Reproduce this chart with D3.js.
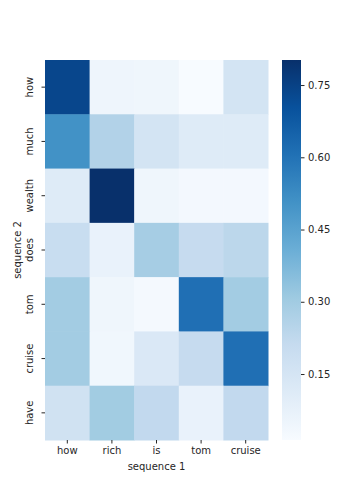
<!DOCTYPE html>
<html>
<head>
<meta charset="utf-8">
<script src="https://cdn.jsdelivr.net/npm/d3@7"></script>
<style>
  body { margin: 0; background: #fff; }
  text { font-family: "DejaVu Sans", sans-serif; fill: #262626; }
</style>
</head>
<body>
<svg id="chart" width="360" height="504"></svg>
<script>
// sequence 1 along x, sequence 2 along y
const seq1 = ['how', 'rich', 'is', 'tom', 'cruise'];
const seq2 = ['how', 'much', 'wealth', 'does', 'tom', 'cruise', 'have'];

// attention weights, one row per word of sequence 2
const rowHow    = [0.735, 0.049, 0.045, 0.013, 0.155];
const rowMuch   = [0.505, 0.26, 0.155, 0.11, 0.11];
const rowWealth = [0.11, 0.802, 0.045, 0.03, 0.03];
const rowDoes   = [0.20, 0.068, 0.29, 0.21, 0.235];
const rowTom    = [0.297, 0.045, 0.025, 0.61, 0.297];
const rowCruise = [0.297, 0.04, 0.13, 0.21, 0.61];
const rowHave   = [0.17, 0.30, 0.22, 0.068, 0.22];
const rows = [rowHow, rowMuch, rowWealth, rowDoes, rowTom, rowCruise, rowHave];

const cbarTicks = [0.15, 0.30, 0.45, 0.60, 0.75];

const margin = {top: 60, left: 45};
const width = 223, height = 380;

const cells = [];
rows.forEach((r, i) => r.forEach((v, j) => cells.push({row: seq2[i], col: seq1[j], value: v})));

// matplotlib "Blues" (linear between the 9 ColorBrewer stops)
const bluesStops = ['#f7fbff', '#deebf7', '#c6dbef', '#9ecae1', '#6baed6', '#4292c6', '#2171b5', '#08519c', '#08306b'];
const ext = d3.extent(cells, d => d.value);
const color = d3.scaleLinear()
    .domain(d3.range(bluesStops.length).map(k => ext[0] + k * (ext[1] - ext[0]) / (bluesStops.length - 1)))
    .range(bluesStops)
    .interpolate(d3.interpolateRgb)
    .clamp(true);

const svg = d3.select('#chart');
const chart = svg.append('g').attr('transform', `translate(${margin.left},${margin.top})`);

const x = d3.scaleBand().domain(seq1).range([0, width]);
const y = d3.scaleBand().domain(seq2).range([0, height]);

chart.selectAll('.cell')
    .data(cells)
  .join('rect')
    .attr('class', 'cell')
    .attr('x', d => x(d.col))
    .attr('y', d => y(d.row))
    .attr('width', x.bandwidth() + 0.5)
    .attr('height', y.bandwidth() + 0.5)
    .attr('fill', d => color(d.value));

// axes
const xAxis = d3.axisBottom(x).tickSize(3.5).tickPadding(3.5);
const yAxis = d3.axisLeft(y).tickSize(3.5).tickPadding(3.5);

const xAxisG = chart.append('g')
    .attr('transform', `translate(0,${height})`)
    .call(xAxis)
    .call(g => g.select('.domain').remove());
xAxisG.selectAll('text').attr('font-size', 10).style('fill', '#262626');
xAxisG.selectAll('line').attr('stroke', '#262626').attr('stroke-width', 1);

const yAxisG = chart.append('g')
    .call(yAxis)
    .call(g => g.select('.domain').remove());
yAxisG.selectAll('text')
    .attr('font-size', 10)
    .style('fill', '#262626')
    .attr('text-anchor', 'middle')
    .attr('x', null).attr('dy', null)
    .attr('transform', 'translate(-12,0) rotate(-90)');
yAxisG.selectAll('line').attr('stroke', '#262626').attr('stroke-width', 1);

// axis titles
chart.append('text')
    .attr('x', width / 2)
    .attr('y', height + 30)
    .attr('text-anchor', 'middle')
    .attr('font-size', 10)
    .text('sequence 1');

svg.append('text')
    .attr('transform', `translate(21,${margin.top + height / 2}) rotate(-90)`)
    .attr('text-anchor', 'middle')
    .attr('font-size', 10)
    .text('sequence 2');

// colorbar
const cbX = 282, cbW = 19;
const cbScale = d3.scaleLinear().domain(ext).range([margin.top + height, margin.top]);

const defs = svg.append('defs');
const grad = defs.append('linearGradient')
    .attr('id', 'cbgrad')
    .attr('x1', 0).attr('y1', 1).attr('x2', 0).attr('y2', 0);
grad.selectAll('stop')
    .data(bluesStops)
  .join('stop')
    .attr('offset', (d, k) => k / (bluesStops.length - 1))
    .attr('stop-color', d => d);

svg.append('rect')
    .attr('x', cbX)
    .attr('y', margin.top)
    .attr('width', cbW)
    .attr('height', height)
    .attr('fill', 'url(#cbgrad)');

const cbAxisG = svg.append('g')
    .attr('transform', `translate(${cbX + cbW},0)`)
    .call(d3.axisRight(cbScale).tickValues(cbarTicks).tickFormat(d3.format('.2f')).tickSize(3.5).tickPadding(3.5))
    .call(g => g.select('.domain').remove());
cbAxisG.selectAll('text').attr('font-size', 10).style('fill', '#262626');
cbAxisG.selectAll('line').attr('stroke', '#262626');
</script>
</body>
</html>
